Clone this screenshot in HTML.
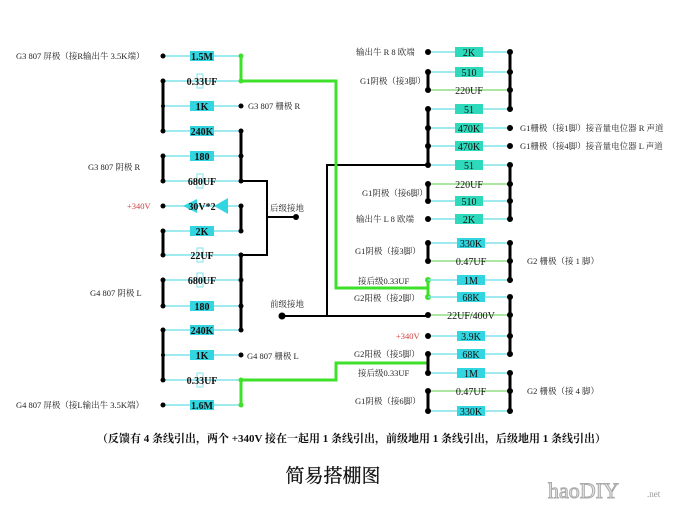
<!DOCTYPE html>
<html><head><meta charset="utf-8"><style>
html,body{margin:0;padding:0;background:#fff;width:680px;height:510px;overflow:hidden}
svg{display:block}
text{font-family:"Liberation Serif","Noto Serif CJK SC","Noto Sans CJK SC",serif}
.c{stroke:#7fe3ea;stroke-width:1.5}
.b{stroke:#000;stroke-width:3;stroke-linecap:round}
.k{stroke:#000;stroke-width:2}
.g{stroke:#3ee02a;stroke-width:3;fill:none}
.v{font-size:10px;font-weight:bold;fill:#111;text-anchor:middle}
.l{font-size:8.5px;fill:#222}
</style></head><body>
<svg width="680" height="510" viewBox="0 0 680 510">
<g class="c">
<line x1="163" y1="56" x2="241" y2="56"/><line x1="163" y1="81" x2="241" y2="81"/>
<line x1="163" y1="106" x2="241" y2="106"/><line x1="163" y1="131" x2="241" y2="131"/>
<line x1="163" y1="156" x2="241" y2="156"/><line x1="163" y1="181" x2="241" y2="181"/>
<line x1="163" y1="206" x2="241" y2="206"/><line x1="163" y1="231" x2="241" y2="231"/>
<line x1="163" y1="255" x2="241" y2="255"/><line x1="163" y1="280" x2="241" y2="280"/>
<line x1="163" y1="306" x2="241" y2="306"/><line x1="163" y1="330" x2="241" y2="330"/>
<line x1="163" y1="355" x2="241" y2="355"/><line x1="163" y1="380" x2="241" y2="380"/>
<line x1="163" y1="405" x2="241" y2="405"/>
</g>
<g fill="#33d6e0">
<rect x="190" y="51" width="24" height="10"/><rect x="190" y="101" width="24" height="10"/>
<rect x="190" y="126" width="24" height="10"/><rect x="190" y="151" width="24" height="10"/>
<rect x="190" y="226" width="24" height="10"/><rect x="190" y="301" width="24" height="10"/>
<rect x="190" y="325" width="24" height="10"/><rect x="190" y="350" width="24" height="10"/>
<rect x="190" y="400" width="24" height="10"/>
<polygon points="183,206 197,199 197,213"/><polygon points="214,206 228,198 228,214"/>
</g>
<g fill="none" stroke="#7fe3ea" stroke-width="1">
<rect x="197" y="74" width="6" height="14"/><rect x="197" y="174" width="6" height="14"/>
<rect x="197" y="248" width="6" height="14"/><rect x="197" y="273" width="6" height="14"/>
<rect x="197" y="373" width="6" height="14"/>
</g>
<g class="v">
<text x="202" y="60">1.5M</text><text x="202" y="85">0.33UF</text><text x="202" y="110">1K</text>
<text x="202" y="135">240K</text><text x="202" y="160">180</text><text x="202" y="185">680UF</text>
<text x="202" y="210">30V*2</text><text x="202" y="235">2K</text><text x="202" y="259">22UF</text>
<text x="202" y="284">680UF</text><text x="202" y="310">180</text><text x="202" y="334">240K</text>
<text x="202" y="359">1K</text><text x="202" y="384">0.33UF</text><text x="202" y="409">1.6M</text>
</g>
<g class="b">
<line x1="163" y1="81" x2="163" y2="131"/><line x1="163" y1="156" x2="163" y2="181"/>
<line x1="241" y1="131" x2="241" y2="181"/><line x1="241" y1="206" x2="241" y2="231"/>
<line x1="163" y1="231" x2="163" y2="255"/><line x1="241" y1="255" x2="241" y2="330"/>
<line x1="163" y1="280" x2="163" y2="306"/><line x1="163" y1="330" x2="163" y2="380"/>
</g>
<g fill="#000">
<circle cx="163" cy="56" r="2.5"/><circle cx="163" cy="81" r="2.5"/><circle cx="163" cy="106" r="2"/><circle cx="163" cy="131" r="2.5"/>
<circle cx="163" cy="156" r="2.5"/><circle cx="163" cy="181" r="2.5"/><circle cx="163" cy="206" r="2.5"/><circle cx="163" cy="231" r="2.5"/>
<circle cx="163" cy="255" r="2.5"/><circle cx="163" cy="280" r="2.5"/><circle cx="163" cy="306" r="2.5"/><circle cx="163" cy="330" r="2.5"/>
<circle cx="163" cy="355" r="2"/><circle cx="163" cy="380" r="2.5"/><circle cx="163" cy="405" r="2.5"/>
<circle cx="241" cy="106" r="2.5"/><circle cx="241" cy="131" r="2.5"/><circle cx="241" cy="156" r="2.5"/><circle cx="241" cy="181" r="2.5"/>
<circle cx="241" cy="206" r="2.5"/><circle cx="241" cy="231" r="2.5"/><circle cx="241" cy="255" r="2.5"/><circle cx="241" cy="280" r="2.5"/>
<circle cx="241" cy="306" r="2.5"/><circle cx="241" cy="330" r="2.5"/><circle cx="241" cy="355" r="2.5"/>
<circle cx="296" cy="217" r="3"/><circle cx="282" cy="316" r="3.5"/>
</g>
<g class="l">
<text x="16" y="59">G3 807 屏极（接R输出牛 3.5K端）</text>
<text x="248" y="109">G3 807 栅极 R</text>
<text x="88" y="170">G3 807 阴极 R</text>
<text x="127" y="209" fill="#d04040">+340V</text>
<text x="90" y="296">G4 807 阴极 L</text>
<text x="247" y="359">G4 807 栅极 L</text>
<text x="16" y="408">G4 807 屏极（接L输出牛 3.5K端）</text>
<text x="270" y="211">后级接地</text>
<text x="270" y="307">前级接地</text>
</g>
<g class="k" fill="none">
<polyline points="241,181 267,181 267,255 241,255"/>
<line x1="267" y1="217" x2="296" y2="217"/>
<line x1="282" y1="316" x2="428" y2="316"/>
<polyline points="327,316 327,165 428,165"/>
</g>
<g class="g">
<polyline points="241,56 241,81 336,81 336,288 428,288"/>
<line x1="428" y1="280" x2="428" y2="297"/>
<polyline points="241,405 241,380 336,380 336,363 428,363"/>
</g>
<g fill="#3ee02a"><circle cx="241" cy="56" r="2.5"/><circle cx="241" cy="81" r="2.5"/><circle cx="241" cy="380" r="2.5"/><circle cx="241" cy="405" r="2.5"/><circle cx="428" cy="280" r="3"/><circle cx="428" cy="297" r="3"/></g>

<g class="c">
<line x1="428" y1="52" x2="510" y2="52"/><line x1="428" y1="72" x2="510" y2="72"/>
<line x1="428" y1="109" x2="510" y2="109"/><line x1="428" y1="128" x2="510" y2="128"/>
<line x1="428" y1="146" x2="510" y2="146"/><line x1="428" y1="165" x2="510" y2="165"/>
<line x1="428" y1="201" x2="510" y2="201"/><line x1="428" y1="219" x2="510" y2="219"/>
<line x1="428" y1="243" x2="510" y2="243"/><line x1="428" y1="280" x2="510" y2="280"/>
<line x1="428" y1="297" x2="510" y2="297"/><line x1="428" y1="336" x2="510" y2="336"/>
<line x1="428" y1="354" x2="510" y2="354"/><line x1="428" y1="373" x2="510" y2="373"/>
<line x1="428" y1="411" x2="510" y2="411"/>
</g>
<g stroke="#7ad86a" stroke-width="1.2">
<line x1="428" y1="90" x2="510" y2="90"/><line x1="428" y1="184" x2="510" y2="184"/>
<line x1="428" y1="261" x2="510" y2="261"/><line x1="428" y1="315" x2="510" y2="315"/>
<line x1="428" y1="391" x2="510" y2="391"/>
</g>
<g fill="#2fd9bb">
<rect x="455" y="47" width="28" height="10"/><rect x="455" y="67" width="28" height="10"/>
<rect x="455" y="104" width="28" height="10"/><rect x="455" y="123" width="28" height="10"/>
<rect x="455" y="141" width="28" height="10"/><rect x="455" y="160" width="28" height="10"/>
<rect x="455" y="196" width="28" height="10"/><rect x="455" y="214" width="28" height="10"/>
</g>
<g fill="#33d6e0">
<rect x="457" y="238" width="28" height="10"/><rect x="457" y="275" width="28" height="10"/>
<rect x="457" y="292" width="28" height="10"/><rect x="457" y="331" width="28" height="10"/>
<rect x="457" y="349" width="28" height="10"/><rect x="457" y="368" width="28" height="10"/>
<rect x="457" y="406" width="28" height="10"/>
</g>
<g class="v" style="font-weight:normal">
<text x="469" y="56">2K</text><text x="469" y="76">510</text><text x="469" y="94">220UF</text>
<text x="469" y="113">51</text><text x="469" y="132">470K</text><text x="469" y="150">470K</text>
<text x="469" y="169">51</text><text x="469" y="188">220UF</text><text x="469" y="205">510</text>
<text x="469" y="223">2K</text><text x="471" y="247">330K</text><text x="471" y="265">0.47UF</text>
<text x="471" y="284">1M</text><text x="471" y="301">68K</text><text x="471" y="319">22UF/400V</text>
<text x="471" y="340">3.9K</text><text x="471" y="358">68K</text><text x="471" y="377">1M</text>
<text x="471" y="395">0.47UF</text><text x="471" y="415">330K</text>
</g>
<g class="b">
<line x1="510" y1="52" x2="510" y2="109"/><line x1="428" y1="72" x2="428" y2="90"/>
<line x1="428" y1="109" x2="428" y2="165"/><line x1="510" y1="165" x2="510" y2="219"/>
<line x1="428" y1="184" x2="428" y2="201"/><line x1="428" y1="243" x2="428" y2="261"/>
<line x1="510" y1="243" x2="510" y2="280"/><line x1="510" y1="297" x2="510" y2="354"/>
<line x1="428" y1="354" x2="428" y2="373"/><line x1="510" y1="373" x2="510" y2="411"/>
<line x1="428" y1="391" x2="428" y2="411"/>
</g>
<g fill="#000">
<circle cx="428" cy="52" r="3"/><circle cx="428" cy="72" r="3"/><circle cx="428" cy="90" r="3"/><circle cx="428" cy="109" r="3"/>
<circle cx="428" cy="128" r="3"/><circle cx="428" cy="146" r="3"/><circle cx="428" cy="165" r="3"/><circle cx="428" cy="184" r="3"/>
<circle cx="428" cy="201" r="3"/><circle cx="428" cy="219" r="3"/><circle cx="428" cy="243" r="3"/><circle cx="428" cy="261" r="3"/>
<circle cx="428" cy="315" r="3"/><circle cx="428" cy="336" r="3"/><circle cx="428" cy="354" r="3"/><circle cx="428" cy="373" r="3"/>
<circle cx="428" cy="391" r="3"/><circle cx="428" cy="411" r="3"/>
<circle cx="510" cy="52" r="3"/><circle cx="510" cy="72" r="3"/><circle cx="510" cy="90" r="3"/><circle cx="510" cy="109" r="3"/>
<circle cx="510" cy="128" r="3"/><circle cx="510" cy="146" r="3"/><circle cx="510" cy="165" r="3"/><circle cx="510" cy="184" r="3"/>
<circle cx="510" cy="201" r="3"/><circle cx="510" cy="219" r="3"/><circle cx="510" cy="243" r="3"/><circle cx="510" cy="261" r="3"/>
<circle cx="510" cy="280" r="3"/><circle cx="510" cy="297" r="3"/><circle cx="510" cy="315" r="3"/><circle cx="510" cy="336" r="3"/>
<circle cx="510" cy="354" r="3"/><circle cx="510" cy="373" r="3"/><circle cx="510" cy="391" r="3"/><circle cx="510" cy="411" r="3"/>
</g>
<g class="l">
<text x="356" y="55">输出牛 R 8 欧端</text>
<text x="360" y="84">G1阴极（接3脚）</text>
<text x="520" y="131">G1栅极（接1脚）接音量电位器 R 声道</text>
<text x="520" y="149">G1栅极（接4脚）接音量电位器 L 声道</text>
<text x="362" y="196">G1阴极（接6脚）</text>
<text x="356" y="222">输出牛 L 8 欧端</text>
<text x="355" y="254">G1阴极（接3脚）</text>
<text x="527" y="264">G2 栅极（接 1 脚）</text>
<text x="358" y="284">接后级0.33UF</text>
<text x="354" y="301">G2阳极（接2脚）</text>
<text x="396" y="339" fill="#d04040">+340V</text>
<text x="354" y="357">G2阳极（接5脚）</text>
<text x="358" y="376">接后级0.33UF</text>
<text x="527" y="394">G2 栅极（接 4 脚）</text>
<text x="355" y="404">G1阴极（接6脚）</text>
</g>
<text x="97" y="442" font-size="11" font-weight="bold" fill="#111">（反馈有 4 条线引出，两个 +340V 接在一起用 1 条线引出，前级地用 1 条线引出，后级地用 1 条线引出）</text>
<text x="333" y="482" font-size="19" text-anchor="middle" fill="#111" stroke="#111" stroke-width="0.3">简易搭棚图</text>
<text x="548" y="498" font-size="22" font-family="Liberation Sans,sans-serif" fill="#e8e8e8" stroke="#aaa" stroke-width="1">haoDIY</text>
<text x="647" y="497" font-size="9" fill="#999">.net</text>
</svg>
</body></html>
